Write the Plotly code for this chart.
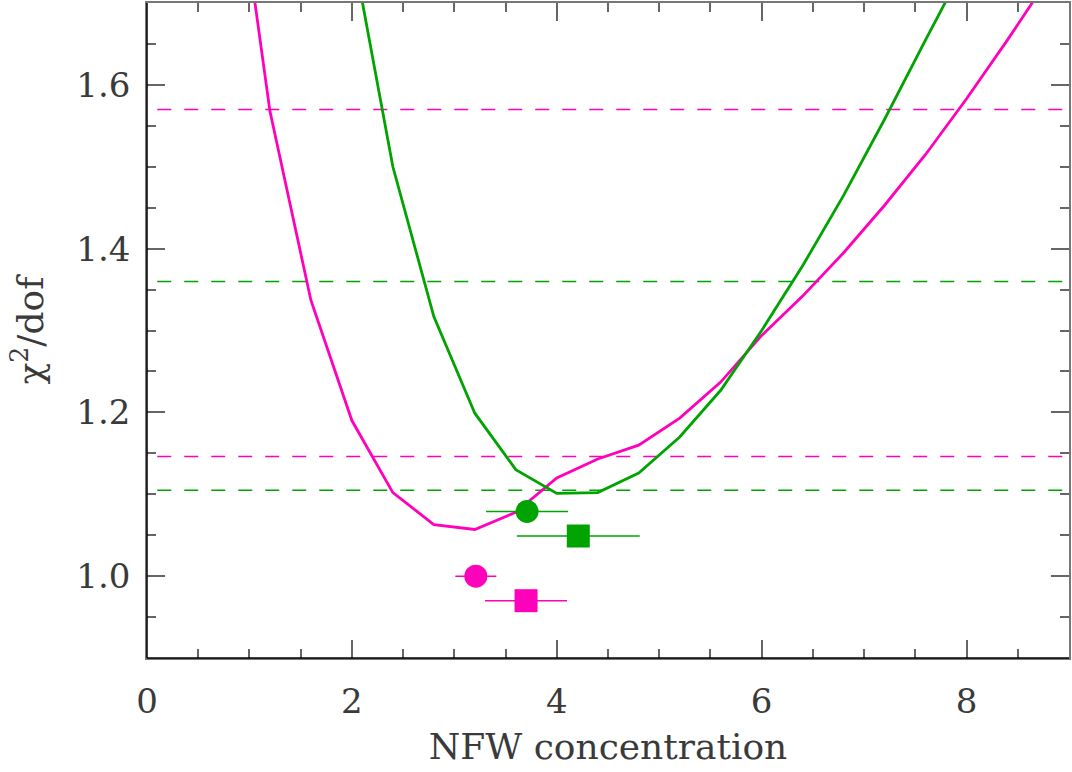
import plotly.graph_objects as go

MAG = "#ff00bb"
GRN = "#00a300"

# Curves (NFW concentration vs chi2/dof)
mag_c = [0.8, 1.2, 1.6, 2.0, 2.4, 2.8, 3.2, 3.6, 4.0, 4.4, 4.8, 5.2, 5.6, 6.0, 6.4, 6.8, 7.2, 7.6, 8.0, 8.4, 8.8]
mag_chi = [1.93, 1.568, 1.337, 1.19, 1.102, 1.063, 1.057, 1.078, 1.12, 1.143, 1.16, 1.193, 1.237, 1.294, 1.342, 1.395, 1.453, 1.515, 1.583, 1.655, 1.73]

grn_c = [2.0, 2.4, 2.8, 3.2, 3.6, 4.0, 4.4, 4.8, 5.2, 5.6, 6.0, 6.4, 6.8, 7.2, 7.6, 8.0]
grn_chi = [1.77, 1.50, 1.317, 1.199, 1.13, 1.101, 1.102, 1.126, 1.17, 1.227, 1.30, 1.379, 1.465, 1.558, 1.655, 1.75]

# Horizontal reference levels
mag_levels = [1.57, 1.146]
grn_levels = [1.36, 1.105]
level_x = [0.1, 9.0]

# Best-fit points with error bars
grn_circ = dict(x=[3.71], y=[1.079], err=[0.4])
grn_sq = dict(x=[4.21], y=[1.049], err=[0.6])
mag_circ = dict(x=[3.21], y=[1.0], err=[0.2])
mag_sq = dict(x=[3.7], y=[0.97], err=[0.4])

fig = go.Figure()

for lv in mag_levels:
    fig.add_trace(go.Scatter(x=level_x, y=[lv, lv], mode="lines",
                             line=dict(color=MAG, width=1.5, dash="14px,13px"), showlegend=False))
for lv in grn_levels:
    fig.add_trace(go.Scatter(x=level_x, y=[lv, lv], mode="lines",
                             line=dict(color=GRN, width=1.5, dash="14px,13px"), showlegend=False))

fig.add_trace(go.Scatter(x=mag_c, y=mag_chi, mode="lines", line=dict(color=MAG, width=2.8), showlegend=False))
fig.add_trace(go.Scatter(x=grn_c, y=grn_chi, mode="lines", line=dict(color=GRN, width=2.8), showlegend=False))

def pt(d, color, symbol, size):
    fig.add_trace(go.Scatter(
        x=d["x"], y=d["y"], mode="markers",
        marker=dict(color=color, symbol=symbol, size=size, line=dict(width=0)),
        error_x=dict(type="data", array=d["err"], color=color, thickness=1.5, width=0),
        showlegend=False))

pt(grn_circ, GRN, "circle", 23)
pt(grn_sq, GRN, "square", 23)
pt(mag_circ, MAG, "circle", 23)
pt(mag_sq, MAG, "square", 23)

FONT = "DejaVu Serif"
TXT = "#3a3a3a"
axis_common = dict(
    showgrid=False, zeroline=False, mirror="allticks", showline=True,
    linecolor="#777777", linewidth=1.5, ticks="inside", tickcolor="#666666",
    tickwidth=1.5, ticklen=18,
    tickfont=dict(family=FONT, size=34, color=TXT),
)

fig.update_xaxes(
    range=[0, 9], tickvals=[0, 2, 4, 6, 8], ticktext=["0", "2", "4", "6", "8"],
    ticklabelstandoff=12,
    minor=dict(dtick=0.5, ticklen=9, tickcolor="#666666", tickwidth=1.5, ticks="inside"),
    title=dict(text="NFW concentration", font=dict(family=FONT, size=36, color=TXT), standoff=14),
    **axis_common)
fig.update_yaxes(
    range=[0.9, 1.7], tickvals=[1.0, 1.2, 1.4, 1.6], ticktext=["1.0", "1.2", "1.4", "1.6"],
    ticklabelstandoff=8,
    minor=dict(dtick=0.05, ticklen=9, tickcolor="#666666", tickwidth=1.5, ticks="inside"),
    title=dict(text="χ<sup>2</sup>/dof", font=dict(family=FONT, size=36, color=TXT), standoff=22),
    **axis_common)

# darker left and bottom axis lines
fig.add_shape(type="line", xref="paper", yref="paper", x0=0, x1=0, y0=0, y1=1,
              line=dict(color="black", width=1.5))
fig.add_shape(type="line", xref="paper", yref="paper", x0=0, x1=1, y0=0, y1=0,
              line=dict(color="black", width=1.5))

fig.update_layout(
    width=1072, height=772,
    margin=dict(l=147, r=1, t=3, b=114),
    plot_bgcolor="white", paper_bgcolor="white",
)

fig.write_html("out.html")
